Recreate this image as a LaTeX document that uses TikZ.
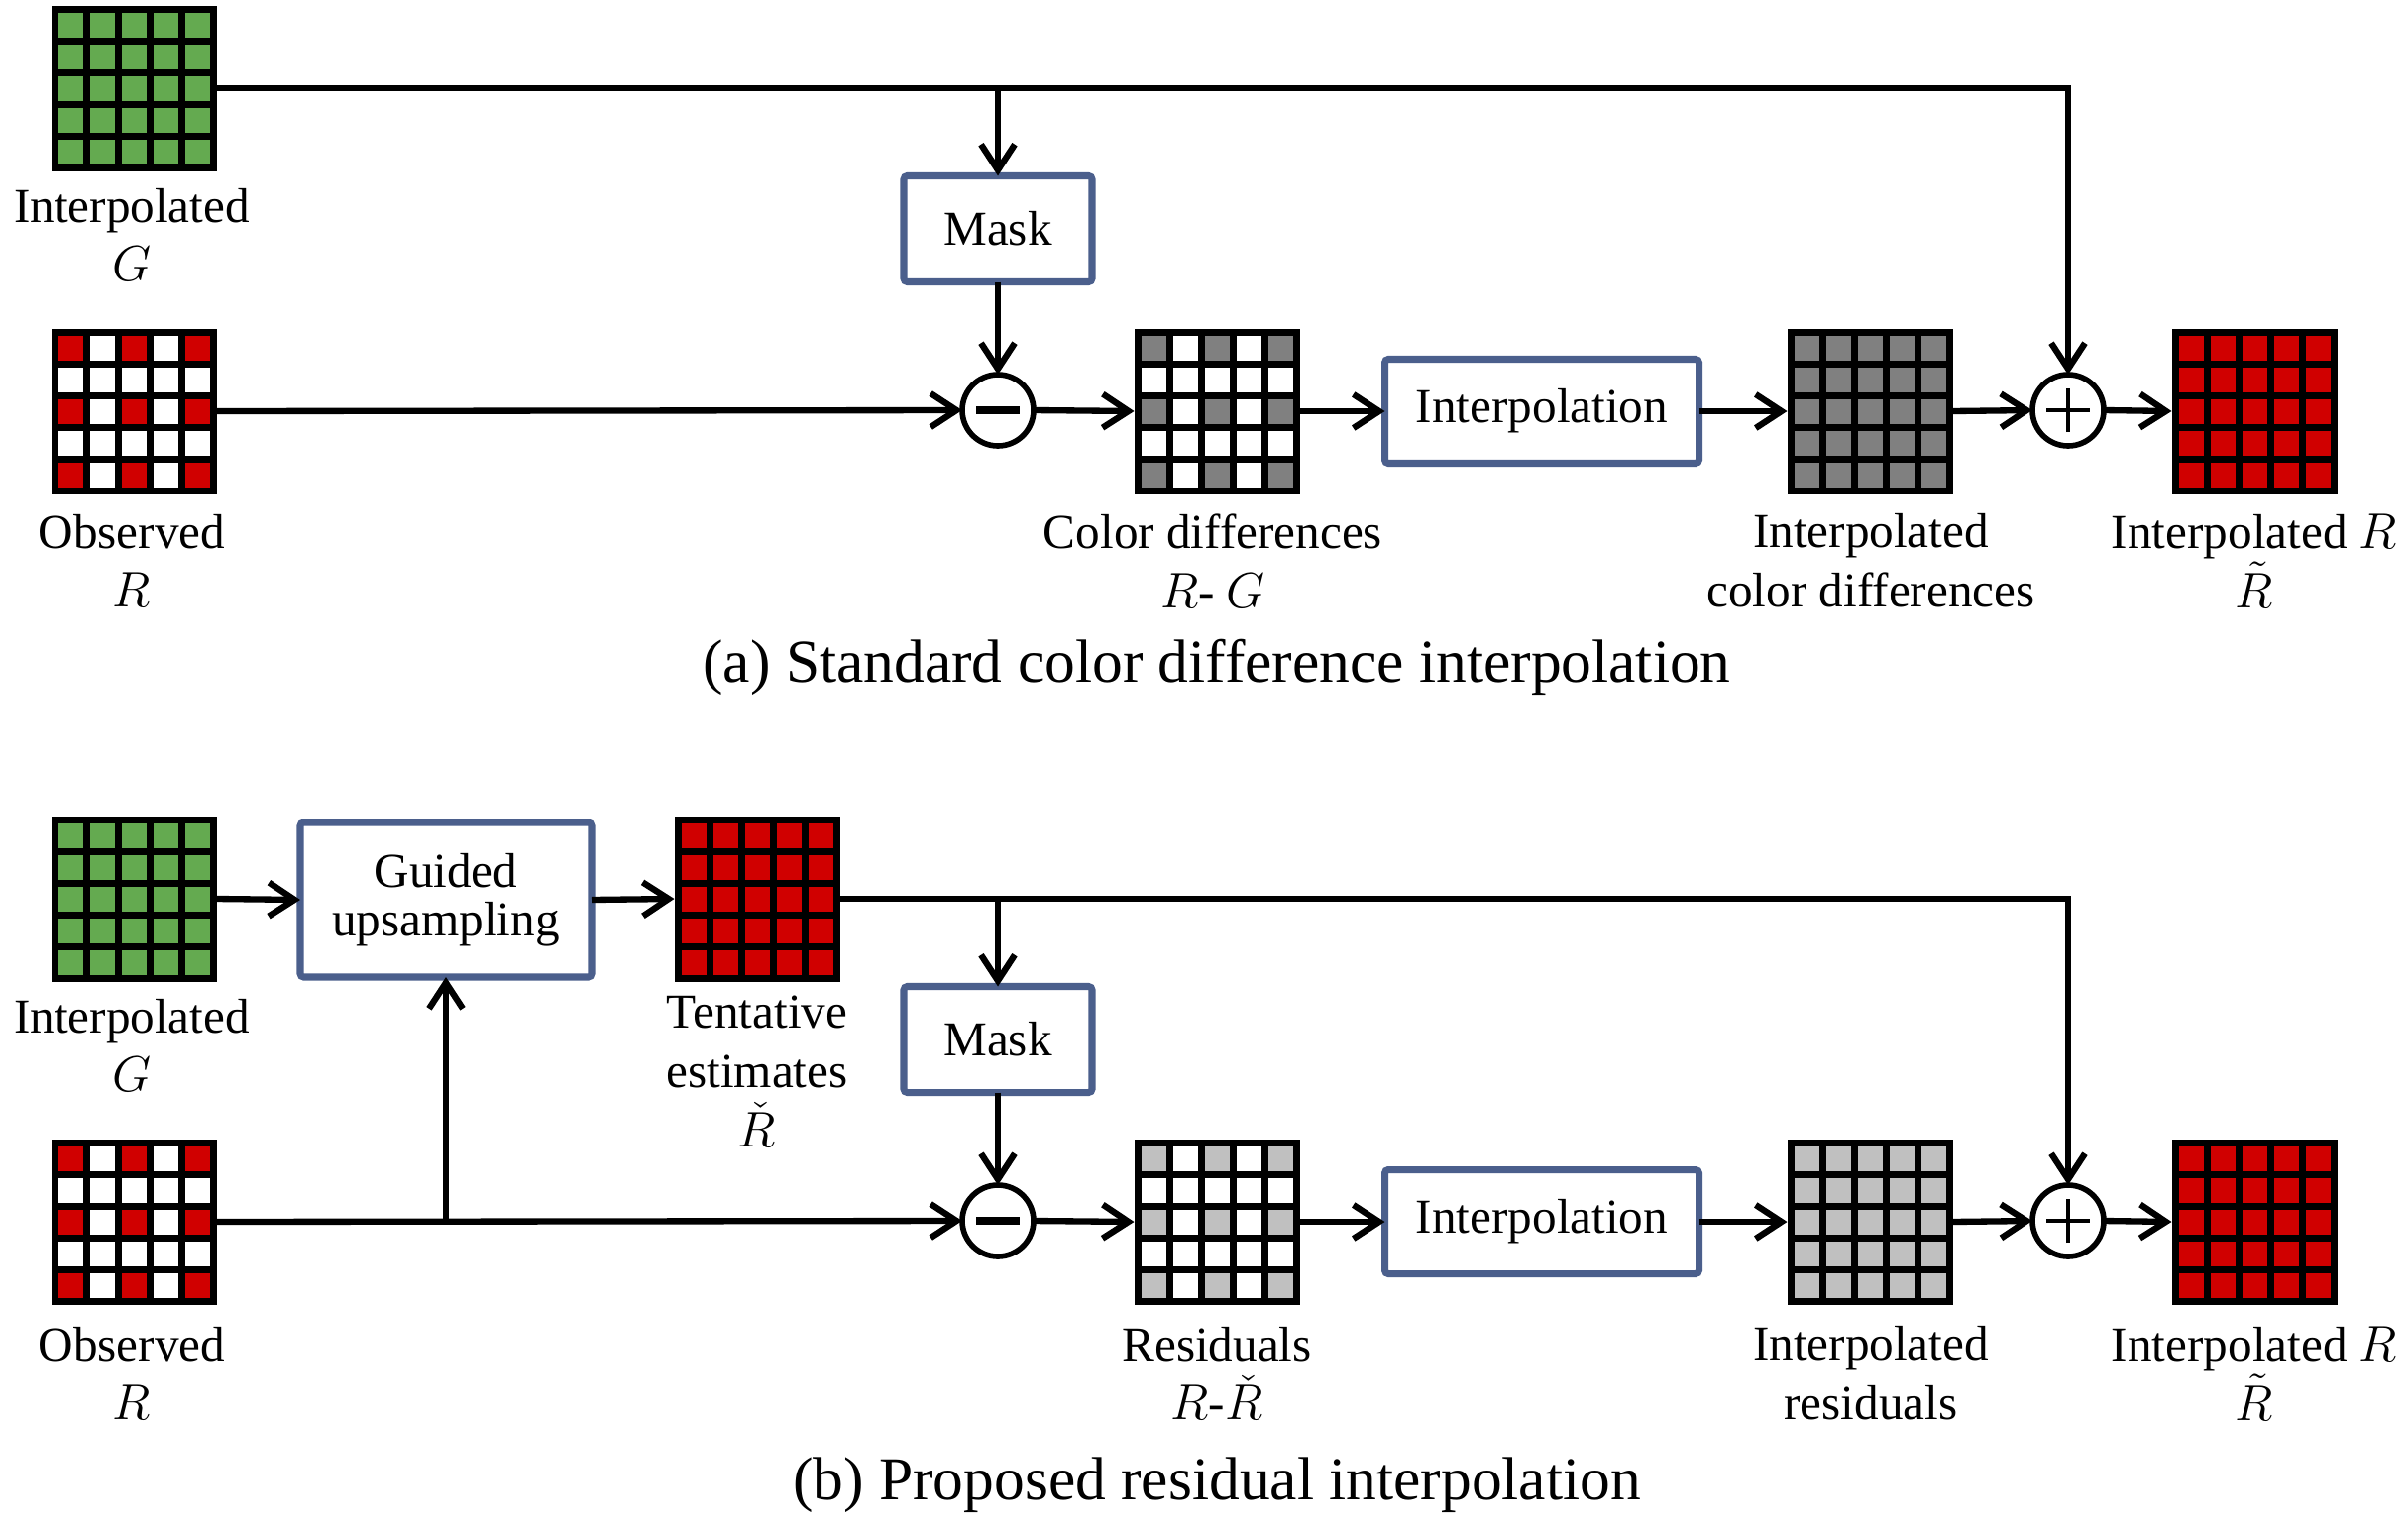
\documentclass[tikz,border=0pt]{standalone}
\usepackage{fontspec}
\setmainfont{Liberation Serif}
\usetikzlibrary{arrows.meta}

\definecolor{pixred}{RGB}{208,0,0}
\definecolor{pixgreen}{RGB}{100,170,80}
\definecolor{diffgray}{RGB}{128,128,128}
\definecolor{resgray}{RGB}{192,192,192}
\definecolor{boxblue}{RGB}{75,95,140}

\tikzset{
  gridframe/.style={fill=black, inner sep=0pt, outer sep=0pt, minimum size=1.67cm},
  procbox/.style={draw=boxblue, line width=2pt, fill=white, rounded corners=1pt,
    inner sep=0pt, outer sep=0pt, align=center, font=\fontsize{14}{14}\selectfont},
  opcircle/.style={circle, draw, line width=1.6pt, fill=white, inner sep=0pt, outer sep=0pt, minimum size=0.72cm},
  minusop/.style={opcircle, path picture={
    \draw[line width=2.2pt] ([xshift=-0.22cm]path picture bounding box.center) -- ([xshift=0.22cm]path picture bounding box.center);}},
  plusop/.style={opcircle, path picture={
    \draw[line width=1.2pt] ([xshift=-0.22cm]path picture bounding box.center) -- ([xshift=0.22cm]path picture bounding box.center);
    \draw[line width=1.2pt] ([yshift=-0.22cm]path picture bounding box.center) -- ([yshift=0.22cm]path picture bounding box.center);}},
  arrowline/.style={line width=1.8pt, -{Straight Barb[length=2.6mm,width=3.4mm]}},
  txt/.style={inner sep=0pt, align=center, font=\fontsize{14}{17}\selectfont},
  figcaption/.style={inner sep=0pt, font=\fontsize{17.5}{21}\selectfont}
}

% 5x5 pixel grid: name, position, colour of the sampled pixels, colour of the others
\newcommand{\pixgrid}[4]{%
  \node[gridframe] (#1) at (#2) {};
  \foreach \i in {0,...,4}{
    \foreach \j in {0,...,4}{
      \pgfmathtruncatemacro{\parity}{mod(\i,2)+mod(\j,2)}
      \ifnum\parity=0 \def\cellcol{#3}\else\def\cellcol{#4}\fi
      \fill[fill=\cellcol] ([shift={(0.07+0.32*\i,-0.07-0.32*\j)}]#1.north west) rectangle ++(0.25,-0.25);
    }
  }
}

\begin{document}
\begin{tikzpicture}
  \useasboundingbox (0,0) rectangle (24.3,-15.41);

  % (a) Grids
  \pixgrid{greenA}{1.35,-0.89}{pixgreen}{pixgreen}
  \pixgrid{obsA}{1.35,-4.15}{pixred}{white}
  \pixgrid{diffA}{12.28,-4.15}{diffgray}{white}
  \pixgrid{idiffA}{18.87,-4.15}{diffgray}{diffgray}
  \pixgrid{outA}{22.75,-4.15}{pixred}{pixred}

  % (a) Boxes and operators
  \node[procbox, minimum width=1.90cm, minimum height=1.07cm] (maskA) at (10.07,-2.31) {Mask};
  \node[minusop] (minusA) at (10.07,-4.14) {};
  \node[procbox, minimum width=3.17cm, minimum height=1.05cm] (interpA) at (15.56,-4.15) {Interpolation};
  \node[plusop] (plusA) at (20.87,-4.14) {};

  % (a) Labels
  \node[txt] (greenAlab) at (1.33,-2.37) {Interpolated\\$G$};
  \node[txt] (obsAlab) at (1.33,-5.66) {Observed\\$R$};
  \node[txt] (diffAlab) at (12.24,-5.66) {Color differences\\$R$- $G$};
  \node[txt] (idiffAlab) at (18.88,-5.66) {Interpolated\\color differences};
  \node[txt] (outAlab) at (22.75,-5.66) {Interpolated $R$\\$\tilde{R}$};
  \node[figcaption] (capA) at (12.28,-6.73) {(a) Standard color difference interpolation};

  % (a) Arrows
  \coordinate (splitA) at (maskA |- greenA);
  \draw[arrowline] (greenA.east) -| (plusA.north);
  \draw[arrowline] (splitA) -- (maskA.north);
  \draw[arrowline] (maskA.south) -- (minusA.north);
  \draw[arrowline] (obsA.east) -- (minusA.west);
  \draw[arrowline] (minusA.east) -- (diffA.west);
  \draw[arrowline] (diffA.east) -- (interpA.west);
  \draw[arrowline] (interpA.east) -- (idiffA.west);
  \draw[arrowline] (idiffA.east) -- (plusA.west);
  \draw[arrowline] (plusA.east) -- (outA.west);

  % (b) Grids
  \pixgrid{greenB}{1.35,-9.07}{pixgreen}{pixgreen}
  \pixgrid{obsB}{1.35,-12.33}{pixred}{white}
  \pixgrid{tentB}{7.64,-9.07}{pixred}{pixred}
  \pixgrid{resB}{12.28,-12.33}{resgray}{white}
  \pixgrid{iresB}{18.87,-12.33}{resgray}{resgray}
  \pixgrid{outB}{22.75,-12.33}{pixred}{pixred}

  % (b) Boxes and operators
  \node[procbox, minimum width=2.94cm, minimum height=1.56cm] (guidedB) at (4.50,-9.08) {Guided\\upsampling};
  \node[procbox, minimum width=1.90cm, minimum height=1.07cm] (maskB) at (10.07,-10.49) {Mask};
  \node[minusop] (minusB) at (10.07,-12.32) {};
  \node[procbox, minimum width=3.17cm, minimum height=1.05cm] (interpB) at (15.56,-12.33) {Interpolation};
  \node[plusop] (plusB) at (20.87,-12.32) {};

  % (b) Labels
  \node[txt] (greenBlab) at (1.33,-10.55) {Interpolated\\$G$};
  \node[txt] (obsBlab) at (1.33,-13.86) {Observed\\$R$};
  \node[txt] (tentBlab) at (7.64,-10.81) {Tentative\\estimates\\$\check{R}$};
  \node[txt] (resBlab) at (12.28,-13.86) {Residuals\\$R$-$\check{R}$};
  \node[txt] (iresBlab) at (18.88,-13.86) {Interpolated\\residuals};
  \node[txt] (outBlab) at (22.75,-13.86) {Interpolated $R$\\$\tilde{R}$};
  \node[figcaption] (capB) at (12.28,-14.99) {(b) Proposed residual interpolation};

  % (b) Arrows
  \coordinate (splitB) at (maskB |- tentB);
  \coordinate (splitC) at (guidedB |- obsB);
  \draw[arrowline] (greenB.east) -- (guidedB.west);
  \draw[arrowline] (guidedB.east) -- (tentB.west);
  \draw[arrowline] (tentB.east) -| (plusB.north);
  \draw[arrowline] (splitB) -- (maskB.north);
  \draw[arrowline] (maskB.south) -- (minusB.north);
  \draw[arrowline] (obsB.east) -- (minusB.west);
  \draw[arrowline] (splitC) -- (guidedB.south);
  \draw[arrowline] (minusB.east) -- (resB.west);
  \draw[arrowline] (resB.east) -- (interpB.west);
  \draw[arrowline] (interpB.east) -- (iresB.west);
  \draw[arrowline] (iresB.east) -- (plusB.west);
  \draw[arrowline] (plusB.east) -- (outB.west);
\end{tikzpicture}
\end{document}
